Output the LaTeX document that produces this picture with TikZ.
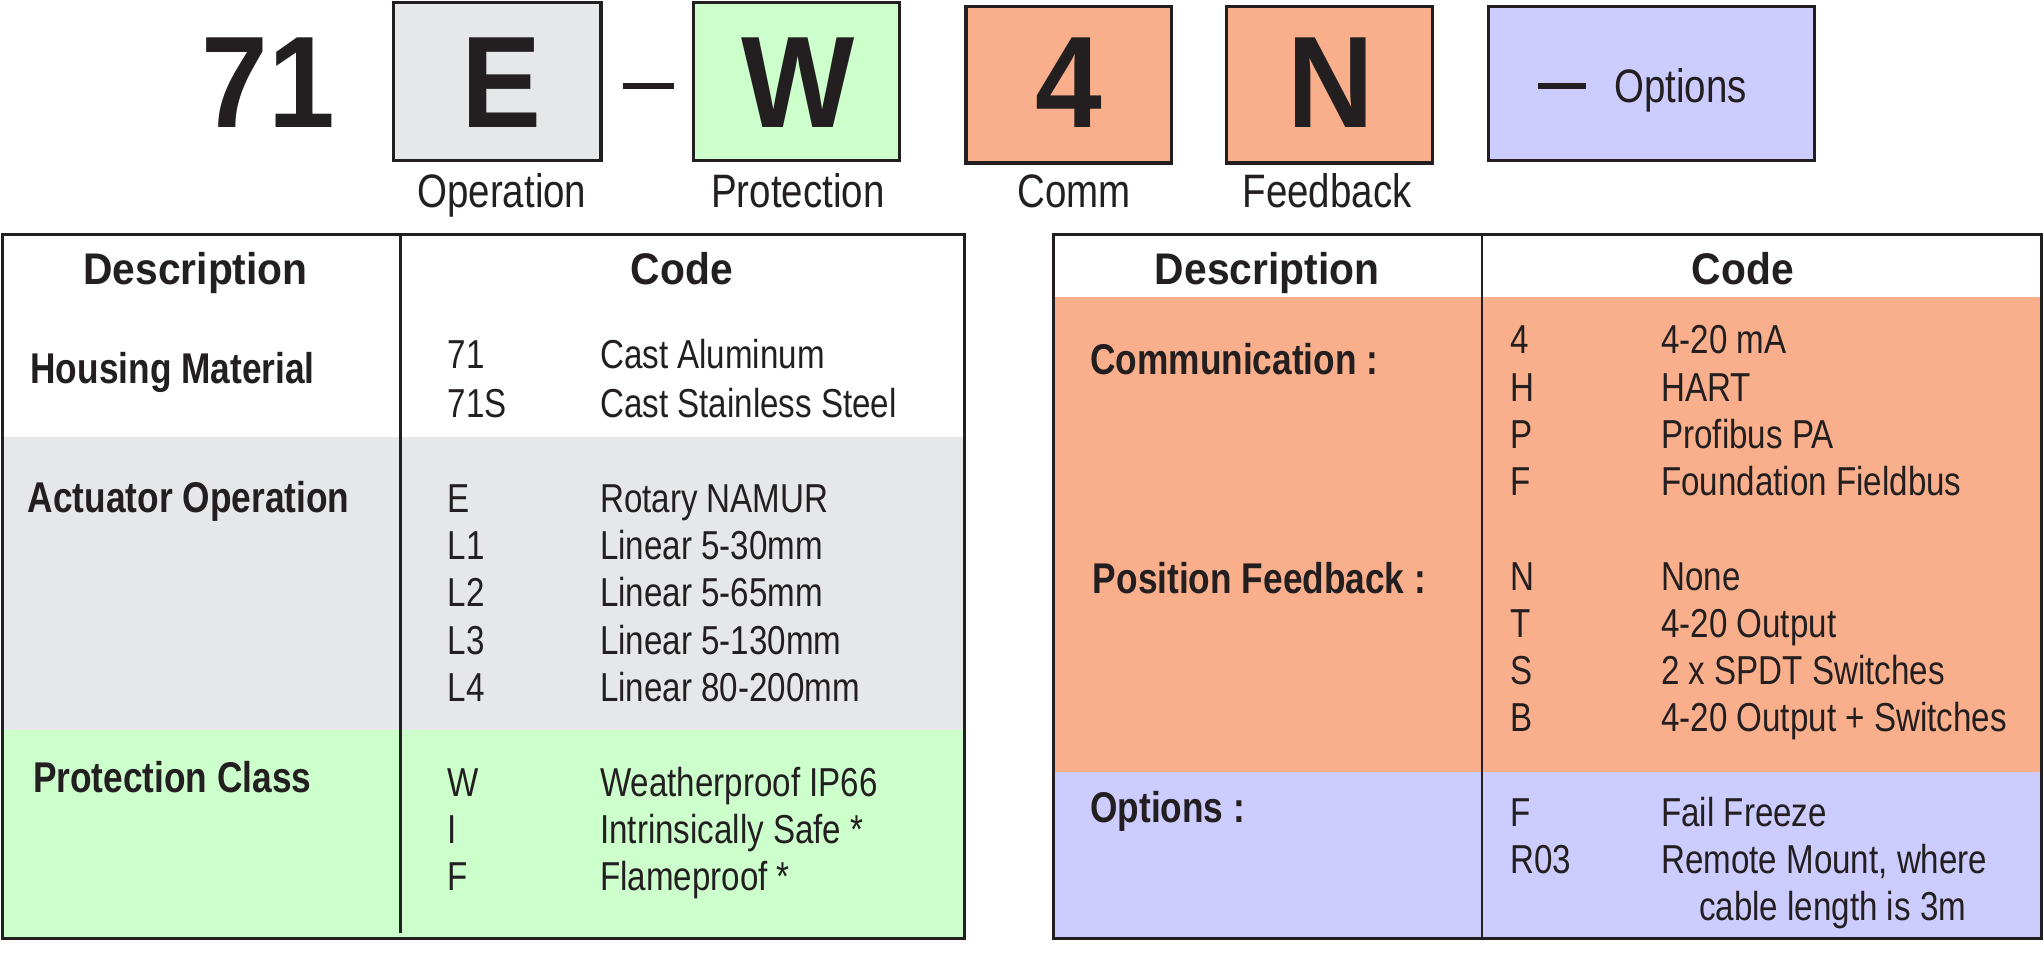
\documentclass[tikz,border=0pt]{standalone}
\usepackage{fontspec}
\setmainfont{Liberation Sans}[FakeStretch=0.82]
\newfontfamily\hdr{Liberation Sans}[FakeStretch=0.92]
\definecolor{gr}{HTML}{E6E7E8}
\definecolor{gn}{HTML}{CCFFCC}
\definecolor{sa}{HTML}{F9AF8B}
\definecolor{lv}{HTML}{CCCCFF}
\definecolor{tx}{HTML}{231F20}
\begin{document}
\begin{tikzpicture}[x=0.5pt,y=-0.5pt,
  cbox/.style={draw=tx,line width=1.2pt},
  big/.style={font=\hdr\fontsize{50}{50}\selectfont\bfseries,text=tx,inner sep=0},
  lbl/.style={font=\fontsize{18}{18}\selectfont,text=tx,anchor=base,inner sep=0},
  hd/.style={font=\hdr\fontsize{17}{17}\selectfont\bfseries,text=tx,anchor=base,inner sep=0},
  sec/.style={font=\fontsize{16.5}{16.5}\selectfont\bfseries,text=tx,anchor=base west,inner sep=0},
  tt/.style={font=\fontsize{15.5}{15.5}\selectfont,text=tx,anchor=base west,inner sep=0}]
\useasboundingbox (0,0) rectangle (1568,750);
% top code
\node[big,anchor=base] (n71) at (206,98) {71};
\draw[cbox,fill=gr] (302,2) rectangle (461,123);
\node[big,anchor=base] (nE) at (385,98) {E};
\draw[tx,line width=2pt] (478,66) -- (517,66);
\draw[cbox,fill=gn] (532,2) rectangle (690,123);
\node[big,anchor=base] (nW) at (612,98) {W};
\draw[cbox,fill=sa] (741,5) rectangle (899,125);
\node[big,anchor=base] (n4) at (820,98) {4};
\draw[cbox,fill=sa] (941,5) rectangle (1099,125);
\node[big,anchor=base] (nN) at (1021,98) {N};
\draw[cbox,fill=lv] (1142,5) rectangle (1392,123);
\draw[tx,line width=2pt] (1180,66) -- (1217,66);
\node[font=\fontsize{18}{18}\selectfont,text=tx,anchor=base west,inner sep=0] (opt) at (1238,79) {Options};
\node[lbl] (l1) at (385,159) {Operation};
\node[lbl] (l2) at (612,159) {Protection};
\node[lbl] (l3) at (824,159) {Comm};
\node[lbl] (l4) at (1018,159) {Feedback};
% left table
\fill[white] (2,180) rectangle (740,335);
\fill[gr] (2,335) rectangle (740,560);
\fill[gn] (2,560) rectangle (740,720);
\draw[tx,line width=1pt] (307,180) -- (307,716);
\draw[cbox] (2,180) rectangle (740,720);
\node[hd] (d1) at (150,218) {Description};
\node[hd] (c1) at (523,218) {Code};
\node[sec] (s1) at (23,294) {Housing Material};
\node[tt] at (343,283) {71}; \node[tt] at (460,283) {Cast Aluminum};
\node[tt] at (343,320) {71S}; \node[tt] at (460,320) {Cast Stainless Steel};
\node[sec] (s2) at (21,393) {Actuator Operation};
\node[tt] at (343,393) {E}; \node[tt] at (460,393) {Rotary NAMUR};
\node[tt] at (343,429) {L1}; \node[tt] at (460,429) {Linear 5-30mm};
\node[tt] at (343,465) {L2}; \node[tt] at (460,465) {Linear 5-65mm};
\node[tt] at (343,502) {L3}; \node[tt] at (460,502) {Linear 5-130mm};
\node[tt] at (343,538) {L4}; \node[tt] at (460,538) {Linear 80-200mm};
\node[sec] (s3) at (25,608) {Protection Class};
\node[tt] at (343,611) {W}; \node[tt] at (460,611) {Weatherproof IP66};
\node[tt] at (343,647) {I}; \node[tt] at (460,647) {Intrinsically Safe *};
\node[tt] at (343,683) {F}; \node[tt] at (460,683) {Flameproof *};
% right table
\fill[white] (808,180) rectangle (1566,228);
\fill[sa] (808,228) rectangle (1566,592);
\fill[lv] (808,592) rectangle (1566,720);
\draw[tx,line width=1pt] (1137,180) -- (1137,720);
\draw[cbox] (808,180) rectangle (1566,720);
\node[hd] (d2) at (972,218) {Description};
\node[hd] (c2) at (1337,218) {Code};
\node[sec] (s4) at (836,287) {Communication :};
\node[tt] at (1158,271) {4}; \node[tt] at (1274,271) {4-20 mA};
\node[tt] at (1158,308) {H}; \node[tt] at (1274,308) {HART};
\node[tt] at (1158,344) {P}; \node[tt] at (1274,344) {Profibus PA};
\node[tt] at (1158,380) {F}; \node[tt] at (1274,380) {Foundation Fieldbus};
\node[sec] (s5) at (838,455) {Position Feedback :};
\node[tt] at (1158,453) {N}; \node[tt] at (1274,453) {None};
\node[tt] at (1158,489) {T}; \node[tt] at (1274,489) {4-20 Output};
\node[tt] at (1158,525) {S}; \node[tt] at (1274,525) {2 x SPDT Switches};
\node[tt] at (1158,561) {B}; \node[tt] at (1274,561) {4-20 Output + Switches};
\node[sec] (s6) at (836,631) {Options :};
\node[tt] at (1158,634) {F}; \node[tt] at (1274,634) {Fail Freeze};
\node[tt] at (1158,670) {R03}; \node[tt] at (1274,670) {Remote Mount, where};
\node[tt] at (1303,706) {cable length is 3m};
\end{tikzpicture}
\end{document}
